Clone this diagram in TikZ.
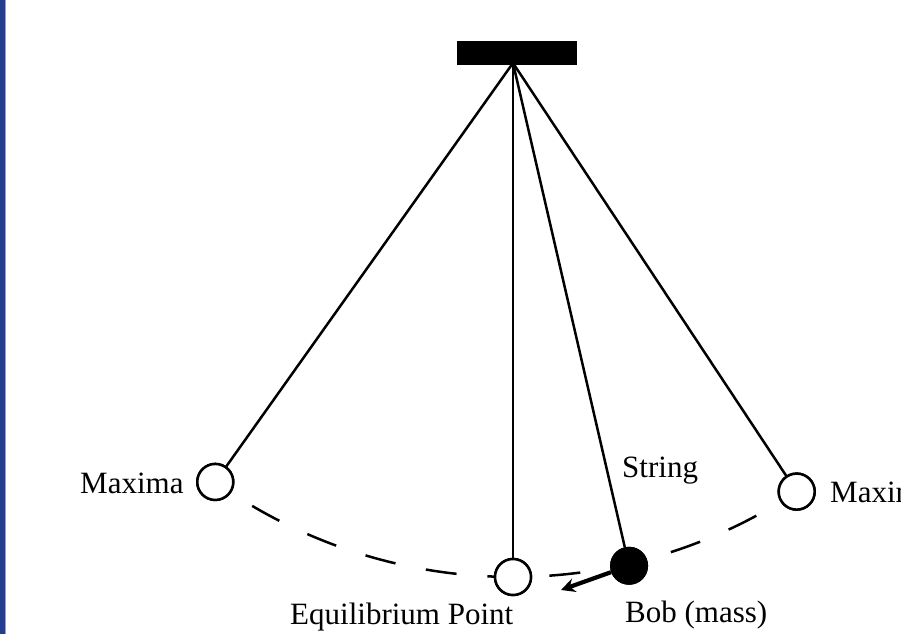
\documentclass[tikz,border=0pt]{standalone}
\usepackage{fontspec}
\setmainfont{Liberation Serif}
\usetikzlibrary{calc,arrows.meta}
\definecolor{bandblue}{RGB}{35,62,140}
\definecolor{bandlight}{RGB}{140,160,222}
\begin{document}
\begin{tikzpicture}[x=1pt,y=1pt,
  stringline/.style={line width=2.5pt,black},
  ballopen/.style={circle,draw=black,line width=2.5pt,fill=white,minimum size=36pt,inner sep=0pt},
  ballfull/.style={circle,fill=black,minimum size=38pt,inner sep=0pt},
  swingpath/.style={line width=2.5pt,dash pattern=on 31pt off 31pt,dash phase=18pt},
  pushar/.style={line width=4.2pt,-{Stealth[length=14pt,width=14pt]}},
  lbl/.style={font=\fontsize{31}{36}\selectfont,inner sep=0pt,anchor=base west}]
\clip (0,0) rectangle (901,634);
\useasboundingbox (0,0) rectangle (901,634);
\fill[white] (0,0) rectangle (901,634);
\fill[bandblue] (0,0) rectangle (5,634);
\fill[bandlight] (5,0) rectangle (6.3,634);

\coordinate (P) at (513,571);
\node[ballopen] (L) at ($(P)+(234.6:514)$) {};
\node[ballopen] (E) at ($(P)+(270:514)$) {};
\node[ballopen] (R) at ($(P)+(303.5:514)$) {};
\node[ballfull] (B) at ($(P)+(283:516)$) {};

% dashed swing path (behind the bobs)
\draw[swingpath] (L.center) arc[start angle=234.6,end angle=303.5,radius=514];

% strings
\draw[stringline] (P) -- (L);
\draw[stringline] (P) -- (E);
\draw[stringline] (P) -- (R);
\draw[stringline] (P) -- (B);

% redraw bobs on top
\node[ballopen] at (L) {};
\node[ballopen] at (E) {};
\node[ballopen] at (R) {};
\node[ballfull] at (B) {};

% support bar
\node[fill=black,minimum width=120pt,minimum height=24pt,inner sep=0pt] (bar) at (517,581) {};

% arrow
\coordinate (tip) at (561,44);
\draw[pushar] (B) -- (tip);

% labels
\node[lbl] (lmax) at (80,140) {Maxima};
\node[lbl] (rmax) at (830,131) {Maxima};
\node[lbl] (lstr) at (622,156) {String};
\node[lbl] (leq) at (290,10) {Equilibrium Point};
\node[lbl] (lbob) at (625,12) {Bob (mass)};
\end{tikzpicture}
\end{document}
